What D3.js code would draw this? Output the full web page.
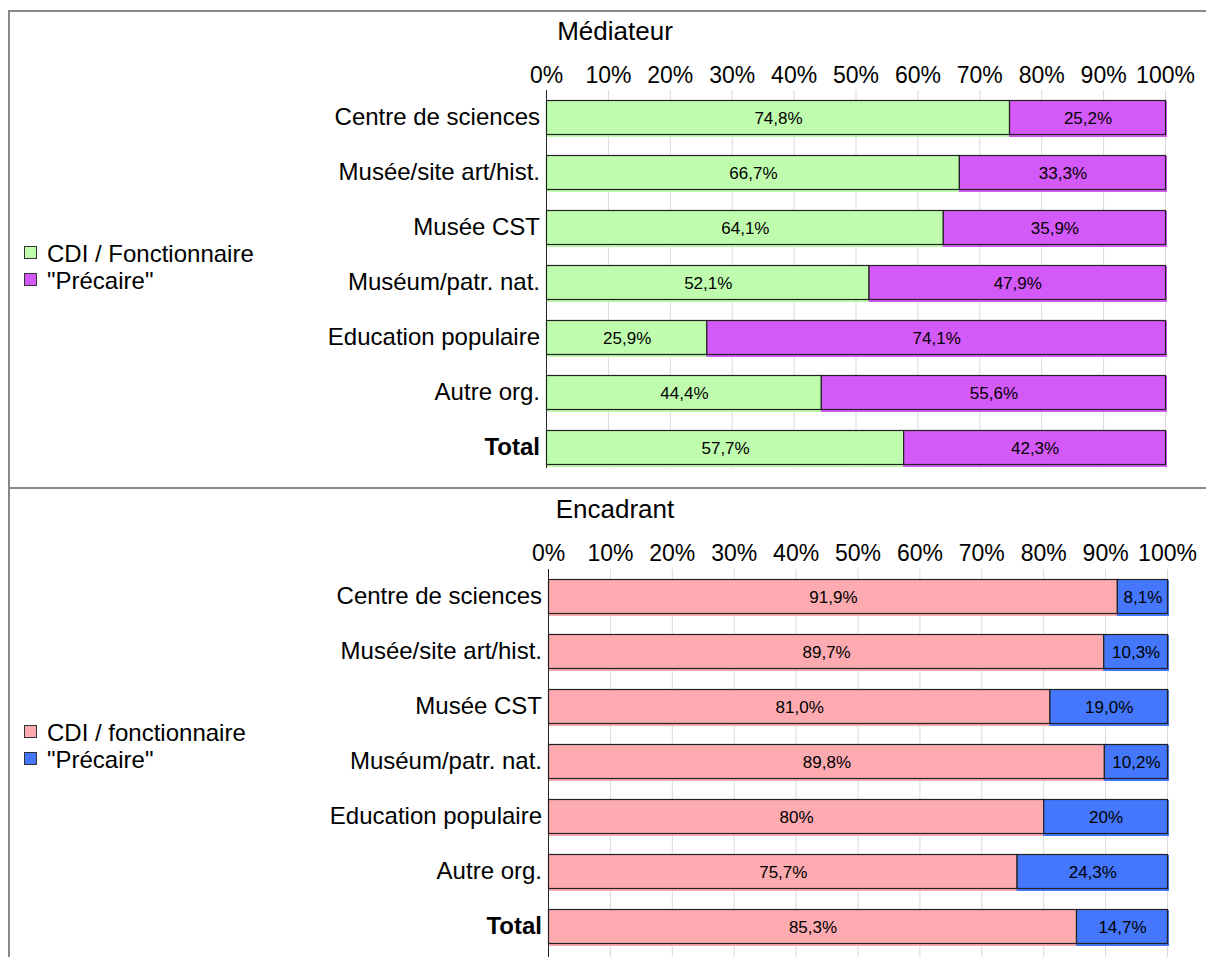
<!DOCTYPE html>
<html><head><meta charset="utf-8">
<script src="https://cdn.jsdelivr.net/npm/d3@7"></script>
<style>body{margin:0;background:#fff}svg{display:block;font-family:"Liberation Sans",Arial,sans-serif}</style>
</head><body><svg id="c" width="1206" height="957"></svg>
<script>
const categories = ["Centre de sciences","Musée/site art/hist.","Musée CST","Muséum/patr. nat.","Education populaire","Autre org.","Total"];
const tickValues = [0,10,20,30,40,50,60,70,80,90,100];
const tickLabels = ["0%","10%","20%","30%","40%","50%","60%","70%","80%","90%","100%"];

const medTitle = "Médiateur";
const medSeries = ["CDI / Fonctionnaire", "\"Précaire\""];
const medCDI = [74.8,66.7,64.1,52.1,25.9,44.4,57.7];
const medPrec = [25.2,33.3,35.9,47.9,74.1,55.6,42.3];
const medCDILabels = ["74,8%","66,7%","64,1%","52,1%","25,9%","44,4%","57,7%"];
const medPrecLabels = ["25,2%","33,3%","35,9%","47,9%","74,1%","55,6%","42,3%"];

const encTitle = "Encadrant";
const encSeries = ["CDI / fonctionnaire", "\"Précaire\""];
const encCDI = [91.9,89.7,81.0,89.8,80,75.7,85.3];
const encPrec = [8.1,10.3,19.0,10.2,20,24.3,14.7];
const encCDILabels = ["91,9%","89,7%","81,0%","89,8%","80%","75,7%","85,3%"];
const encPrecLabels = ["8,1%","10,3%","19,0%","10,2%","20%","24,3%","14,7%"];

const svg = d3.select("#c");

// panel frame
svg.append("path").attr("d","M1207,11 H9 V958").attr("fill","none").attr("stroke","#888").attr("stroke-width",2);
svg.append("line").attr("x1",9).attr("x2",1207).attr("y1",488).attr("y2",488).attr("stroke","#888").attr("stroke-width",2);

function panel(o){
  const x = d3.scaleLinear().domain([0,100]).range([o.x0, o.x1]);
  const y = d3.scaleBand().domain(categories).range([o.y0, o.y0 + 55*categories.length])
    .paddingInner(20/55).paddingOuter(10/55);
  const g = svg.append("g");
  // title
  g.append("text").attr("x", 615).attr("y", o.titleY).attr("text-anchor","middle")
    .attr("dominant-baseline","central").attr("font-size",26).attr("fill","#000").text(o.title);
  // grid
  g.append("g").selectAll("line").data(tickValues.slice(1)).join("line")
    .attr("x1",d=>x(d)+0.5).attr("x2",d=>x(d)+0.5).attr("y1",o.gridTop).attr("y2",o.gridBottom)
    .attr("stroke","#d9d9d9").attr("stroke-width",1);
  // tick labels via axis
  const ax = d3.axisTop(x).tickValues(tickValues).tickFormat((d,i)=>tickLabels[i]).tickSize(0).tickPadding(0);
  const axg = g.append("g").attr("transform",`translate(0,${o.tickY})`).call(ax);
  axg.select(".domain").remove();
  axg.selectAll("text").attr("font-size",23).attr("font-family","Liberation Sans, Arial, sans-serif")
    .attr("fill","#000").attr("dy",null).attr("dominant-baseline","central");
  // bars
  const rows = categories.map((c,i)=>({c, a:o.a[i], b:o.b[i], la:o.la[i], lb:o.lb[i]}));
  const segs = [];
  rows.forEach(r=>{
    segs.push({c:r.c, s:0, e:r.a, col:o.colA, lab:r.la});
    segs.push({c:r.c, s:r.a, e:r.a+r.b, col:o.colB, lab:r.lb});
  });
  // colored under-shadow (fill extends slightly right/bottom)
  g.append("g").selectAll("rect").data(segs).join("rect")
    .attr("x",d=>x(d.s)).attr("y",d=>y(d.c)+1)
    .attr("width",d=>x(d.e)-x(d.s)+2).attr("height",y.bandwidth()+1)
    .attr("fill",d=>d.col);
  g.append("g").selectAll("rect").data(segs).join("rect")
    .attr("x",d=>x(d.s)+0.5).attr("y",d=>y(d.c)+0.5)
    .attr("width",d=>x(d.e)-x(d.s)).attr("height",y.bandwidth()-1)
    .attr("fill",d=>d.col).attr("stroke","#222").attr("stroke-width",1.2);
  g.append("g").selectAll("text").data(segs).join("text")
    .attr("x",d=>(x(d.s)+x(d.e))/2+1).attr("y",d=>y(d.c)+y.bandwidth()/2+1)
    .attr("text-anchor","middle").attr("dominant-baseline","central")
    .attr("font-size",17).attr("fill","#000").text(d=>d.lab);
  // y axis line
  g.append("line").attr("x1",o.x0+0.5).attr("x2",o.x0+0.5).attr("y1",o.gridTop).attr("y2",o.gridBottom)
    .attr("stroke","#222").attr("stroke-width",1);
  // category labels
  g.append("g").selectAll("text").data(categories).join("text")
    .attr("x",o.x0-6).attr("y",d=>y(d)+y.bandwidth()/2-1)
    .attr("text-anchor","end").attr("dominant-baseline","central")
    .attr("font-size",24).attr("font-weight",d=>d==="Total"?"bold":"normal").attr("fill","#000").text(d=>d);
  // legend
  const lg = g.append("g");
  o.series.forEach((s,i)=>{
    const ly = o.legY + i*27;
    lg.append("rect").attr("x",24.5).attr("y",ly-6.5).attr("width",12).attr("height",12)
      .attr("fill",i===0?o.colA:o.colB).attr("stroke","#333").attr("stroke-width",1);
    lg.append("text").attr("x",47).attr("y",ly).attr("dominant-baseline","central")
      .attr("font-size",24).attr("fill","#000").text(s);
  });
}

panel({title:medTitle, titleY:31, tickY:75, x0:546, x1:1165, y0:90, gridTop:90, gridBottom:468,
  a:medCDI, b:medPrec, la:medCDILabels, lb:medPrecLabels, colA:"#bffcad", colB:"#d459f9",
  series:medSeries, legY:253});
panel({title:encTitle, titleY:509, tickY:553, x0:548, x1:1167, y0:569, gridTop:569, gridBottom:957,
  a:encCDI, b:encPrec, la:encCDILabels, lb:encPrecLabels, colA:"#fdaab0", colB:"#4477fc",
  series:encSeries, legY:732});
</script></body></html>
